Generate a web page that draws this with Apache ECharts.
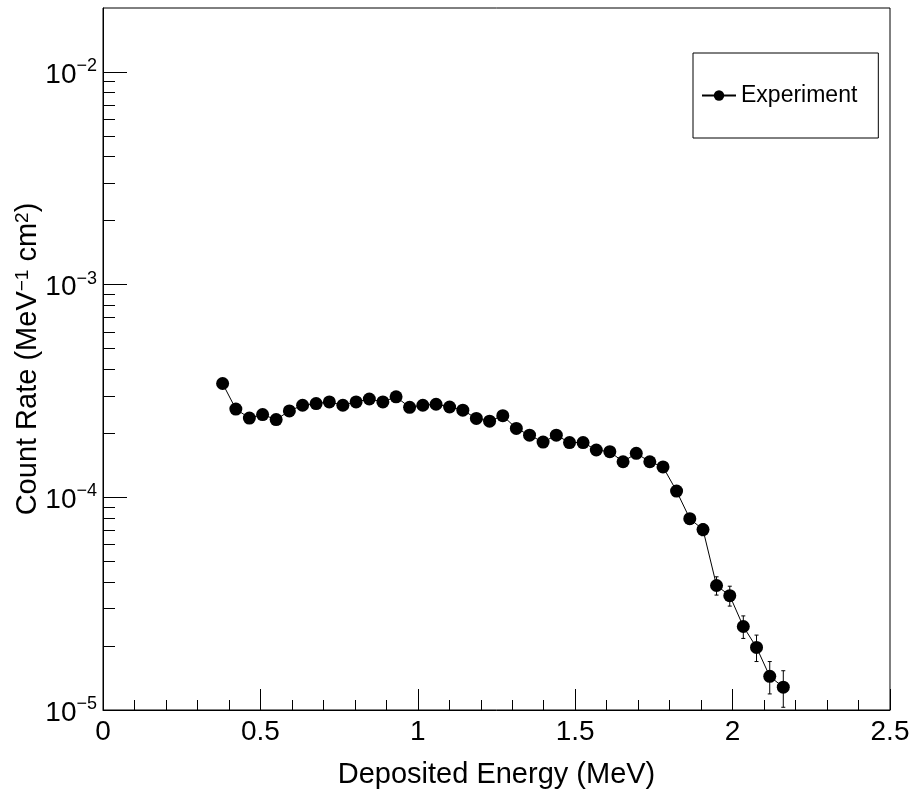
<!DOCTYPE html>
<html lang="en">
<head>
    <meta charset="UTF-8">
    <title>Deposited Energy</title>
    <script src="https://cdn.jsdelivr.net/npm/echarts@6/dist/echarts.min.js"></script>
    <style>
        html, body { margin: 0; padding: 0; background: #fff; }
        #main { width: 914px; height: 792px; }
    </style>
</head>
<body>
<div id="main"></div>
<script>
    // deposited energy bins (MeV)
    let energy = [0.380, 0.422, 0.465, 0.507, 0.550, 0.592, 0.634, 0.677, 0.719, 0.762,
        0.804, 0.846, 0.889, 0.931, 0.974, 1.016, 1.058, 1.101, 1.143, 1.186,
        1.228, 1.270, 1.313, 1.355, 1.398, 1.440, 1.482, 1.525, 1.567, 1.610,
        1.652, 1.694, 1.737, 1.779, 1.822, 1.864, 1.906, 1.949, 1.991, 2.034,
        2.076, 2.118, 2.161];
    // count rate (MeV^-1 cm^2)
    let rate = [3.43e-4, 2.60e-4, 2.36e-4, 2.45e-4, 2.32e-4, 2.55e-4, 2.71e-4, 2.76e-4, 2.81e-4, 2.71e-4,
        2.81e-4, 2.90e-4, 2.81e-4, 2.97e-4, 2.65e-4, 2.71e-4, 2.74e-4, 2.66e-4, 2.57e-4, 2.35e-4,
        2.28e-4, 2.42e-4, 2.11e-4, 1.96e-4, 1.82e-4, 1.96e-4, 1.81e-4, 1.81e-4, 1.67e-4, 1.64e-4,
        1.47e-4, 1.61e-4, 1.47e-4, 1.39e-4, 1.07e-4, 7.94e-5, 7.05e-5, 3.85e-5, 3.45e-5, 2.47e-5,
        1.97e-5, 1.44e-5, 1.28e-5];
    // error on count rate
    let rateErr = [1.1e-5, 0.9e-5, 0.9e-5, 0.9e-5, 0.9e-5, 0.9e-5, 0.9e-5, 0.9e-5, 0.9e-5, 0.9e-5,
        0.9e-5, 0.9e-5, 0.9e-5, 0.9e-5, 0.9e-5, 0.9e-5, 0.9e-5, 0.9e-5, 0.9e-5, 0.8e-5,
        0.8e-5, 0.8e-5, 0.8e-5, 0.7e-5, 0.7e-5, 0.7e-5, 0.7e-5, 0.7e-5, 0.7e-5, 0.7e-5,
        0.6e-5, 0.6e-5, 0.6e-5, 0.6e-5, 0.5e-5, 0.45e-5, 0.45e-5, 0.38e-5, 0.37e-5, 0.3e-5,
        0.28e-5, 0.25e-5, 0.25e-5];

    let yMajor = [1e-5, 1e-4, 1e-3, 1e-2];
    let yMinor = [2e-5, 3e-5, 4e-5, 5e-5, 6e-5, 7e-5, 8e-5, 9e-5,
        2e-4, 3e-4, 4e-4, 5e-4, 6e-4, 7e-4, 8e-4, 9e-4,
        2e-3, 3e-3, 4e-3, 5e-3, 6e-3, 7e-3, 8e-3, 9e-3];

    let font = 'Liberation Sans, Arial, Helvetica, sans-serif';

    let points = energy.map(function (e, i) { return [e, rate[i]]; });
    let bars = energy.map(function (e, i) { return [e, rate[i] - rateErr[i], rate[i] + rateErr[i]]; });

    let myChart = echarts.init(document.getElementById('main'));
    let option = {
        backgroundColor: '#fff',
        animation: false,
        grid: {
            left: 103, right: 24, top: 8, bottom: 82,
            outerBoundsMode: 'none',
            containLabel: false,
            show: true, borderColor: '#000', borderWidth: 1
        },
        legend: {
            left: 693, top: 53,
            orient: 'vertical',
            backgroundColor: '#fff',
            borderColor: '#000',
            borderWidth: 1,
            borderRadius: 0,
            padding: [31, 21, 31, 8],
            itemWidth: 34, itemHeight: 13,
            textStyle: { fontFamily: font, fontSize: 23, color: '#000' },
            data: ['Experiment']
        },
        xAxis: {
            type: 'value',
            min: 0, max: 2.5, interval: 0.5,
            name: 'Deposited Energy (MeV)',
            nameLocation: 'middle',
            nameGap: 50,
            nameMoveOverlap: false,
            nameTextStyle: { fontFamily: font, fontSize: 29, color: '#000' },
            axisLine: { lineStyle: { color: '#000', width: 1 } },
            axisTick: { inside: true, length: 21, lineStyle: { color: '#000' } },
            minorTick: { show: true, splitNumber: 5, length: 10, lineStyle: { color: '#000' } },
            axisLabel: { fontFamily: font, fontSize: 28, color: '#000', margin: 8 },
            splitLine: { show: false }
        },
        yAxis: [{
            type: 'log', logBase: 10,
            min: 1e-5, max: 0.02,
            name: 'Count Rate (MeV{s|\u22121} cm{s|2})',
            nameLocation: 'middle',
            nameGap: 61,
            nameRotate: 90,
            nameMoveOverlap: false,
            nameTextStyle: {
                fontFamily: font, fontSize: 29, color: '#000',
                rich: { s: { fontFamily: font, fontSize: 19, color: '#000', verticalAlign: 'top' } }
            },
            axisLine: { lineStyle: { color: '#000', width: 1 } },
            axisTick: { inside: true, length: 24, customValues: yMajor, lineStyle: { color: '#000' } },
            axisLabel: {
                customValues: yMajor,
                margin: 6,
                formatter: function (v) {
                    let e = Math.round(Math.log10(v));
                    return '{b|10}{s|\u2212' + (-e) + '}';
                },
                rich: {
                    b: { fontFamily: font, fontSize: 28, color: '#000', lineHeight: 30, padding: [6, 0, 0, 0] },
                    s: { fontFamily: font, fontSize: 18, color: '#000', verticalAlign: 'top' }
                }
            },
            splitLine: { show: false }
        }, {
            type: 'log', logBase: 10,
            min: 1e-5, max: 0.02,
            position: 'left',
            axisLine: { show: false },
            axisTick: { inside: true, length: 12, customValues: yMinor, lineStyle: { color: '#000' } },
            axisLabel: { show: false },
            splitLine: { show: false }
        }],
        series: [{
            type: 'custom',
            name: 'err',
            clip: true,
            z: 1,
            data: bars,
            renderItem: function (params, api) {
                let top = api.coord([api.value(0), api.value(2)]);
                let bot = api.coord([api.value(0), api.value(1)]);
                let cw = 2;
                let st = { stroke: '#000', lineWidth: 1 };
                return {
                    type: 'group',
                    children: [
                        { type: 'line', shape: { x1: top[0], y1: top[1], x2: bot[0], y2: bot[1] }, style: st },
                        { type: 'line', shape: { x1: top[0] - cw, y1: top[1], x2: top[0] + cw, y2: top[1] }, style: st },
                        { type: 'line', shape: { x1: bot[0] - cw, y1: bot[1], x2: bot[0] + cw, y2: bot[1] }, style: st }
                    ]
                };
            }
        }, {
            type: 'line',
            name: 'Experiment',
            data: points,
            z: 2,
            symbol: 'circle',
            symbolSize: 13,
            color: '#000',
            itemStyle: { color: '#000' },
            lineStyle: { color: '#000', width: 1 }
        }]
    };
    myChart.setOption(option);
</script>
</body>
</html>
